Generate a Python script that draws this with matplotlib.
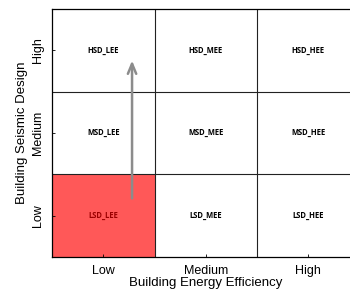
import matplotlib.pyplot as plt
from matplotlib.patches import Rectangle

energy_levels = ["Low", "Medium", "High"]
seismic_levels = ["Low", "Medium", "High"]
cell_labels = [["LSD_LEE", "LSD_MEE", "LSD_HEE"],
               ["MSD_LEE", "MSD_MEE", "MSD_HEE"],
               ["HSD_LEE", "HSD_MEE", "HSD_HEE"]]
highlight = (0, 0)  # (energy col, seismic row)
arrow_x = 0.78
arrow_from = 0.675
arrow_to = 2.41

plt.rcParams['font.family'] = ['Liberation Sans', 'DejaVu Sans']

fig = plt.figure(figsize=(3.5, 2.91), dpi=100)
ax = fig.add_axes([0.149, 0.117, 0.878, 0.852])
ax.set_xlim(0, 3)
ax.set_ylim(0, 3)

ax.add_patch(Rectangle(highlight, 1, 1, facecolor='#ff3b3b', alpha=0.85,
                       edgecolor='none', zorder=1))

for k in [1, 2]:
    ax.axvline(k, color='#222222', lw=0.8, zorder=2)
    ax.axhline(k, color='#222222', lw=0.8, zorder=2)

for r in range(3):
    for c in range(3):
        col = '#9b0000' if (c, r) == highlight else 'black'
        ax.text(c + 0.5, r + 0.5, cell_labels[r][c], ha='center', va='center',
                fontsize=5.5, fontweight='bold', color=col,
                family=['Open Sans', 'DejaVu Sans'], zorder=3)

ax.annotate('', xy=(arrow_x, arrow_to), xytext=(arrow_x, arrow_from),
            arrowprops=dict(arrowstyle='->,head_length=0.6,head_width=0.25',
                            color='#8c8c8c', lw=1.8, mutation_scale=12), zorder=4)

ax.set_xticks([0.5, 1.5, 2.5])
ax.set_xticklabels(energy_levels, fontsize=9)
ax.set_yticks([0.5, 1.5, 2.5])
ax.set_yticklabels(seismic_levels, fontsize=9, rotation=90, va='center')
ax.tick_params(direction='in', length=2, width=0.6, pad=6)
ax.set_xlabel("Building Energy Efficiency", fontsize=9.5, labelpad=0)
ax.set_ylabel("Building Seismic Design", fontsize=9.5, labelpad=3)
ax.spines['right'].set_visible(False)
for s in ['left', 'bottom', 'top']:
    ax.spines[s].set_linewidth(0.9)

fig.savefig('out.png', dpi=100)
